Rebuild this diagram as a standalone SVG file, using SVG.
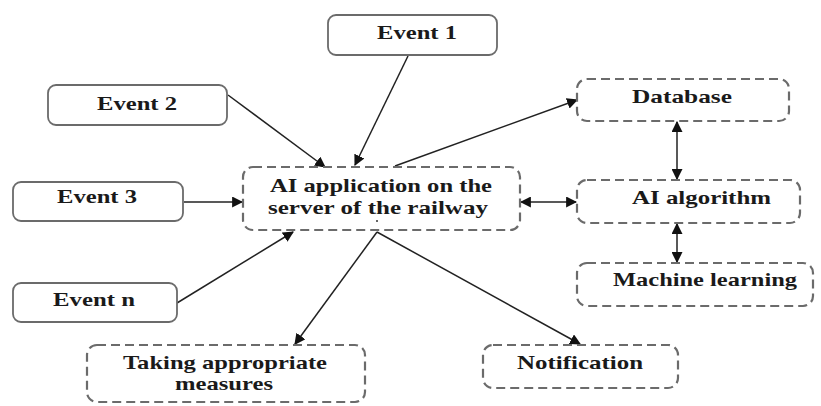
<svg xmlns="http://www.w3.org/2000/svg" width="821" height="406" viewBox="0 0 821 406">
  <style>
    .solid { fill: #ffffff; stroke: #6b6b6b; stroke-width: 1.8; }
    .dash { fill: #ffffff; stroke: #6b6b6b; stroke-width: 2.2; stroke-dasharray: 9 5; }
    .lbl { font-family: "Liberation Serif", "Times New Roman", serif; font-weight: bold; font-size: 19px; fill: #1a1a1a; }
    .edge { stroke: #222222; stroke-width: 1.5; fill: none; }
  </style>
  <defs>
    <marker id="head" viewBox="0 0 10 10" refX="9" refY="5" markerWidth="11" markerHeight="11" markerUnits="userSpaceOnUse" orient="auto-start-reverse">
      <path d="M0,0 L10,5 L0,10 z" fill="#111111"/>
    </marker>
  </defs>

  <!-- connectors -->
  <g id="connectors">
    <line class="edge" x1="408" y1="56" x2="355" y2="165" marker-end="url(#head)"/>
    <line class="edge" x1="228" y1="95" x2="325" y2="167" marker-end="url(#head)"/>
    <line class="edge" x1="184" y1="202" x2="242" y2="202" marker-end="url(#head)"/>
    <line class="edge" x1="177" y1="303" x2="293" y2="232" marker-end="url(#head)"/>
    <line class="edge" x1="395" y1="166" x2="577" y2="100" marker-end="url(#head)"/>
    <line class="edge" x1="521" y1="202" x2="576" y2="202" marker-start="url(#head)" marker-end="url(#head)"/>
    <line class="edge" x1="677" y1="122" x2="677" y2="179" marker-start="url(#head)" marker-end="url(#head)"/>
    <line class="edge" x1="677" y1="224" x2="677" y2="262" marker-start="url(#head)" marker-end="url(#head)"/>
    <line class="edge" x1="377" y1="232" x2="295" y2="344" marker-end="url(#head)"/>
    <line class="edge" x1="377" y1="232" x2="580" y2="344" marker-end="url(#head)"/>
  </g>

  <g id="event1">
    <rect class="solid" x="328" y="15" width="169" height="40" rx="8"/>
    <text class="lbl" x="377" y="39" textLength="80" lengthAdjust="spacingAndGlyphs">Event 1</text>
  </g>
  <g id="event2">
    <rect class="solid" x="48" y="85" width="179" height="40" rx="8"/>
    <text class="lbl" x="97" y="110" textLength="80" lengthAdjust="spacingAndGlyphs">Event 2</text>
  </g>
  <g id="event3">
    <rect class="solid" x="13" y="182" width="170" height="39" rx="8"/>
    <text class="lbl" x="57" y="203" textLength="80" lengthAdjust="spacingAndGlyphs">Event 3</text>
  </g>
  <g id="eventn">
    <rect class="solid" x="13" y="283" width="164" height="39" rx="8"/>
    <text class="lbl" x="53" y="306" textLength="82" lengthAdjust="spacingAndGlyphs">Event n</text>
  </g>

  <g id="ai-application">
    <rect class="dash" x="243" y="167" width="277" height="63" rx="10"/>
    <text class="lbl" x="270" y="192" textLength="222" lengthAdjust="spacingAndGlyphs">AI application on the</text>
    <text class="lbl" x="268" y="214" textLength="220" lengthAdjust="spacingAndGlyphs">server of the railway</text>
    <circle cx="377" cy="221" r="1" fill="#333333"/>
  </g>

  <g id="database">
    <rect class="dash" x="577" y="79" width="212" height="42" rx="10"/>
    <text class="lbl" x="632" y="103" textLength="100" lengthAdjust="spacingAndGlyphs">Database</text>
  </g>
  <g id="ai-algorithm">
    <rect class="dash" x="577" y="180" width="223" height="43" rx="10"/>
    <text class="lbl" x="632" y="204" textLength="139" lengthAdjust="spacingAndGlyphs">AI algorithm</text>
  </g>
  <g id="machine-learning">
    <rect class="dash" x="577" y="263" width="236" height="43" rx="10"/>
    <text class="lbl" x="613" y="286" textLength="184" lengthAdjust="spacingAndGlyphs">Machine learning</text>
  </g>

  <g id="taking-measures">
    <rect class="dash" x="87" y="345" width="278" height="57" rx="10"/>
    <text class="lbl" x="123" y="369" textLength="204" lengthAdjust="spacingAndGlyphs">Taking appropriate</text>
    <text class="lbl" x="175" y="390" textLength="98" lengthAdjust="spacingAndGlyphs">measures</text>
  </g>
  <g id="notification">
    <rect class="dash" x="483" y="345" width="195" height="43" rx="10"/>
    <text class="lbl" x="517" y="369" textLength="126" lengthAdjust="spacingAndGlyphs">Notification</text>
  </g>
</svg>
